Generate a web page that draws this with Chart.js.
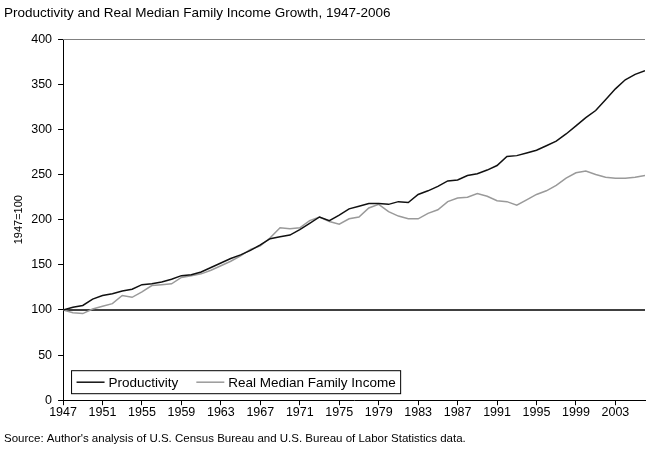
<!DOCTYPE html>
<html>
<head>
<meta charset="utf-8">
<script src="https://cdn.jsdelivr.net/npm/chart.js@4.4.0/dist/chart.umd.min.js"></script>
<style>
  html, body { margin: 0; padding: 0; background: #fff; }
</style>
</head>
<body>
<canvas id="chart" width="646" height="454"></canvas>
<script>
// --- data (1947 = 100) ---
const years = [
  1947, 1948, 1949, 1950, 1951, 1952, 1953, 1954, 1955, 1956,
  1957, 1958, 1959, 1960, 1961, 1962, 1963, 1964, 1965, 1966,
  1967, 1968, 1969, 1970, 1971, 1972, 1973, 1974, 1975, 1976,
  1977, 1978, 1979, 1980, 1981, 1982, 1983, 1984, 1985, 1986,
  1987, 1988, 1989, 1990, 1991, 1992, 1993, 1994, 1995, 1996,
  1997, 1998, 1999, 2000, 2001, 2002, 2003, 2004, 2005, 2006
];

const productivity = [
  100, 103, 105, 112, 116, 118, 121, 123, 128, 129,
  131, 134, 138, 139, 142, 147, 152, 157, 161, 166,
  172, 179, 181, 183, 189, 196, 203, 199, 205, 212,
  215, 218, 218, 217, 220, 219, 228, 232, 237, 243,
  244, 249, 251, 255, 260, 270, 271, 274, 277, 282,
  287, 295, 304, 313, 321, 333, 345, 355, 361, 365
];

const medianIncome = [
  100, 97, 96, 101, 104, 107, 116, 114, 120, 127,
  128, 129, 136, 138, 140, 144, 149, 154, 160, 167,
  171, 180, 191, 190, 191, 199, 203, 198, 195, 201,
  203, 213, 217, 209, 204, 201, 201, 207, 211, 220,
  224, 225, 229, 226, 221, 220, 216, 222, 228, 232,
  238, 246, 252, 254, 250, 247, 246, 246, 247, 249
];

const xTickYears = [1947, 1951, 1955, 1959, 1963, 1967, 1971, 1975, 1979, 1983, 1987, 1991, 1995, 1999, 2003];
const yTicks = [0, 50, 100, 150, 200, 250, 300, 350, 400];
const baseLine = 100;

const FONT = "'Liberation Sans', Arial, sans-serif";

// horizontal 100 line + top frame line
const refLines = {
  id: 'refLines',
  beforeDatasetsDraw(chart) {
    const { ctx, chartArea, scales } = chart;
    const y = scales.y.getPixelForValue(baseLine);
    ctx.save();
    ctx.strokeStyle = '#000';
    ctx.lineWidth = 1.5;
    ctx.beginPath();
    ctx.moveTo(chartArea.left, y);
    ctx.lineTo(chartArea.right, y);
    ctx.stroke();
    ctx.strokeStyle = '#808080';
    ctx.lineWidth = 1;
    const top = Math.round(scales.y.getPixelForValue(400)) + 0.5;
    ctx.beginPath();
    ctx.moveTo(chartArea.left, top);
    ctx.lineTo(chartArea.right, top);
    ctx.stroke();
    ctx.restore();
  }
};

// boxed legend inside the lower-left of the plot
const boxLegend = {
  id: 'boxLegend',
  afterDatasetsDraw(chart) {
    const { ctx, chartArea } = chart;
    const left = chartArea.left + 8.5;
    const top = chartArea.bottom - 29.5;
    const h = 23;
    ctx.save();
    ctx.font = '13.5px ' + FONT;
    ctx.textBaseline = 'middle';
    let x = left + 5;
    const items = chart.data.datasets.map(ds => ({ ds, w: ctx.measureText(ds.label).width }));
    let total = 5;
    items.forEach(it => { total += 32 + it.w + 18; });
    total -= 13;
    ctx.fillStyle = '#fff';
    ctx.fillRect(left, top, total, h);
    ctx.strokeStyle = '#000';
    ctx.lineWidth = 1;
    ctx.strokeRect(left, top, total, h);
    const cy = top + h / 2;
    items.forEach(it => {
      ctx.strokeStyle = it.ds.borderColor;
      ctx.lineWidth = 1.5;
      ctx.beginPath();
      ctx.moveTo(x, cy);
      ctx.lineTo(x + 28, cy);
      ctx.stroke();
      ctx.fillStyle = '#000';
      ctx.fillText(it.ds.label, x + 32, cy + 1);
      x += 32 + it.w + 18;
    });
    ctx.restore();
  }
};

new Chart(document.getElementById('chart'), {
  type: 'line',
  data: {
    labels: years,
    datasets: [
      {
        label: 'Productivity',
        data: productivity.map((v, i) => ({ x: years[i], y: v })),
        borderColor: '#111',
        borderWidth: 1.5,
        pointRadius: 0,
        tension: 0
      },
      {
        label: 'Real Median Family Income',
        data: medianIncome.map((v, i) => ({ x: years[i], y: v })),
        borderColor: '#9a9a9a',
        borderWidth: 1.5,
        pointRadius: 0,
        tension: 0
      }
    ]
  },
  options: {
    responsive: false,
    animation: false,
    layout: { padding: { left: 4, right: 1, top: 0, bottom: 0 } },
    plugins: {
      legend: { display: false },
      tooltip: { enabled: false },
      title: {
        display: true,
        text: 'Productivity and Real Median Family Income Growth, 1947-2006',
        align: 'start',
        color: '#000',
        font: { family: FONT, size: 13.5, weight: 'normal' },
        padding: { top: 5, bottom: 18 }
      },
      subtitle: {
        display: true,
        position: 'bottom',
        text: "Source: Author's analysis of U.S. Census Bureau and U.S. Bureau of Labor Statistics data.",
        align: 'start',
        color: '#000',
        font: { family: FONT, size: 11.5, weight: 'normal' },
        padding: { top: 12, bottom: 8 }
      }
    },
    scales: {
      x: {
        type: 'linear',
        min: years[0],
        max: years[years.length - 1],
        afterBuildTicks: axis => { axis.ticks = xTickYears.map(v => ({ value: v })); },
        ticks: {
          autoSkip: false,
          maxRotation: 0,
          color: '#000',
          font: { family: FONT, size: 12.5 },
          padding: 0,
          callback: v => String(v)
        },
        grid: { drawOnChartArea: false, drawTicks: true, tickLength: 5, color: '#000' },
        border: { color: '#000', width: 1 }
      },
      y: {
        min: 0,
        max: 400,
        afterBuildTicks: axis => { axis.ticks = yTicks.map(v => ({ value: v })); },
        ticks: {
          color: '#000',
          font: { family: FONT, size: 12.5 },
          padding: 6
        },
        grid: { drawOnChartArea: false, drawTicks: true, tickLength: 5, color: '#000' },
        border: { color: '#000', width: 1 },
        title: {
          display: true,
          text: '1947=100',
          color: '#000',
          font: { family: FONT, size: 11 },
          padding: { top: 8, bottom: 0 }
        }
      }
    }
  },
  plugins: [refLines, boxLegend]
});
</script>
</body>
</html>
